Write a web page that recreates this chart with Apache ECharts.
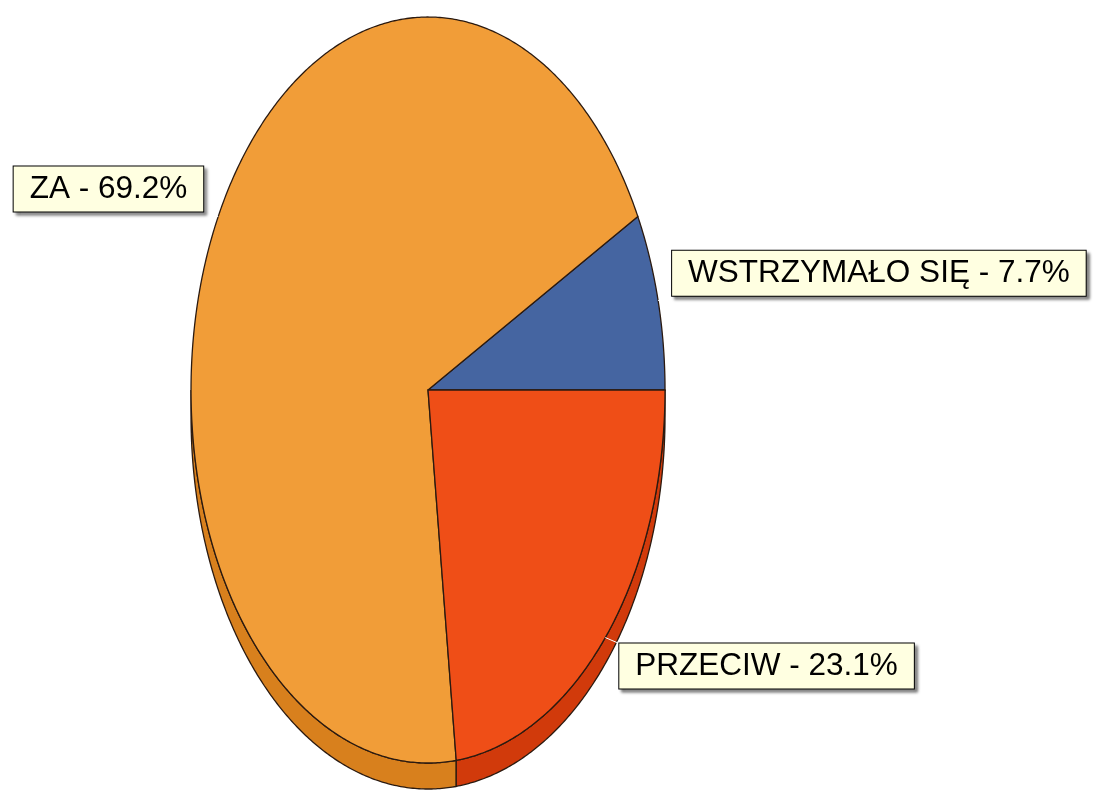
<!DOCTYPE html>
<html>
<head>
<meta charset="utf-8">
<script src="https://cdn.jsdelivr.net/npm/echarts@6/dist/echarts.min.js"></script>
<style>
  html, body { margin: 0; padding: 0; background: #fff; }
  #chart { width: 1093px; height: 790px; }
</style>
</head>
<body>
<div id="chart"></div>
<script>
// slices go counter-clockwise starting at 3 o'clock
var categories = ['WSTRZYMAŁO SIĘ', 'ZA', 'PRZECIW'];
var percents = [7.7, 69.2, 23.1];
var topColors = ['#4565a1', '#f19d38', '#ef4e17'];
var sideColors = ['#34507f', '#d8801d', '#d13a0b'];

var chart = echarts.init(document.getElementById('chart'));

var total = percents.reduce(function (a, b) { return a + b; }, 0);

function renderSlice(params, api) {
  var i = params.dataIndex;
  var w = api.getWidth(), h = api.getHeight();
  var cx = w * 0.3916, cy = h * 0.4937;
  var rx = 237, ry = 373, depth = 26;

  var before = 0;
  for (var k = 0; k < i; k++) before += percents[k];
  var t1 = before / total * 360;
  var t2 = t1 + api.value(1) / total * 360;

  function pt(t, dy) {
    var r = t * Math.PI / 180;
    return [cx + rx * Math.cos(r), cy - ry * Math.sin(r) + dy];
  }
  function arc(a, b, dy) {
    var pts = [];
    var n = Math.max(2, Math.ceil(Math.abs(b - a) * 2));
    for (var j = 0; j <= n; j++) pts.push(pt(a + (b - a) * j / n, dy));
    return pts;
  }

  var children = [];

  // front side (the 3d rim) only where the slice faces down
  var a = Math.max(t1, 180), b = Math.min(t2, 360);
  if (b > a) {
    var side = arc(a, b, 0).concat(arc(b, a, depth));
    children.push({
      type: 'polygon', z2: 1,
      shape: { points: side },
      style: { fill: sideColors[i], stroke: '#2b1a10', lineWidth: 1.3 }
    });
  }

  var top = [[cx, cy]].concat(arc(t1, t2, 0));
  children.push({
    type: 'polygon', z2: 10,
    shape: { points: top },
    style: { fill: topColors[i], stroke: '#2b1a10', lineWidth: 1.3 }
  });

  // label box next to the middle of the outer edge
  var mid = (t1 + t2) / 2;
  var p = pt(mid, 0);
  var c = Math.cos(mid * Math.PI / 180), s = Math.sin(mid * Math.PI / 180);
  var lx = p[0] + (c >= 0 ? 14 : -15);
  var ly = p[1] + (s >= 0 ? -5 : 6);
  children.push({
    type: 'line', z2: 15,
    shape: { x1: p[0], y1: p[1], x2: lx, y2: ly },
    style: { stroke: '#ffffff', lineWidth: 1 }
  });
  children.push({
    type: 'text', z2: 20,
    x: lx, y: ly,
    style: {
      text: api.value(0) + ' - ' + api.value(1).toFixed(1) + '%',
      fontFamily: '"Liberation Sans", Arial, sans-serif',
      fontSize: 31.5,
      lineHeight: 35,
      fill: '#000',
      align: c >= 0 ? 'left' : 'right',
      verticalAlign: s >= 0 ? 'bottom' : 'top',
      backgroundColor: '#ffffe1',
      borderColor: '#000',
      borderWidth: 1,
      padding: [5, 16, 5, 16],
      shadowColor: 'rgba(0,0,0,0.45)',
      shadowBlur: 3,
      shadowOffsetX: 3,
      shadowOffsetY: 3
    }
  });

  return { type: 'group', children: children };
}

chart.setOption({
  animation: false,
  backgroundColor: '#ffffff',
  series: [{
    type: 'custom',
    coordinateSystem: 'none',
    renderItem: renderSlice,
    dimensions: ['name', 'value'],
    data: categories.map(function (n, i) { return [n, percents[i]]; })
  }]
});
</script>
</body>
</html>
